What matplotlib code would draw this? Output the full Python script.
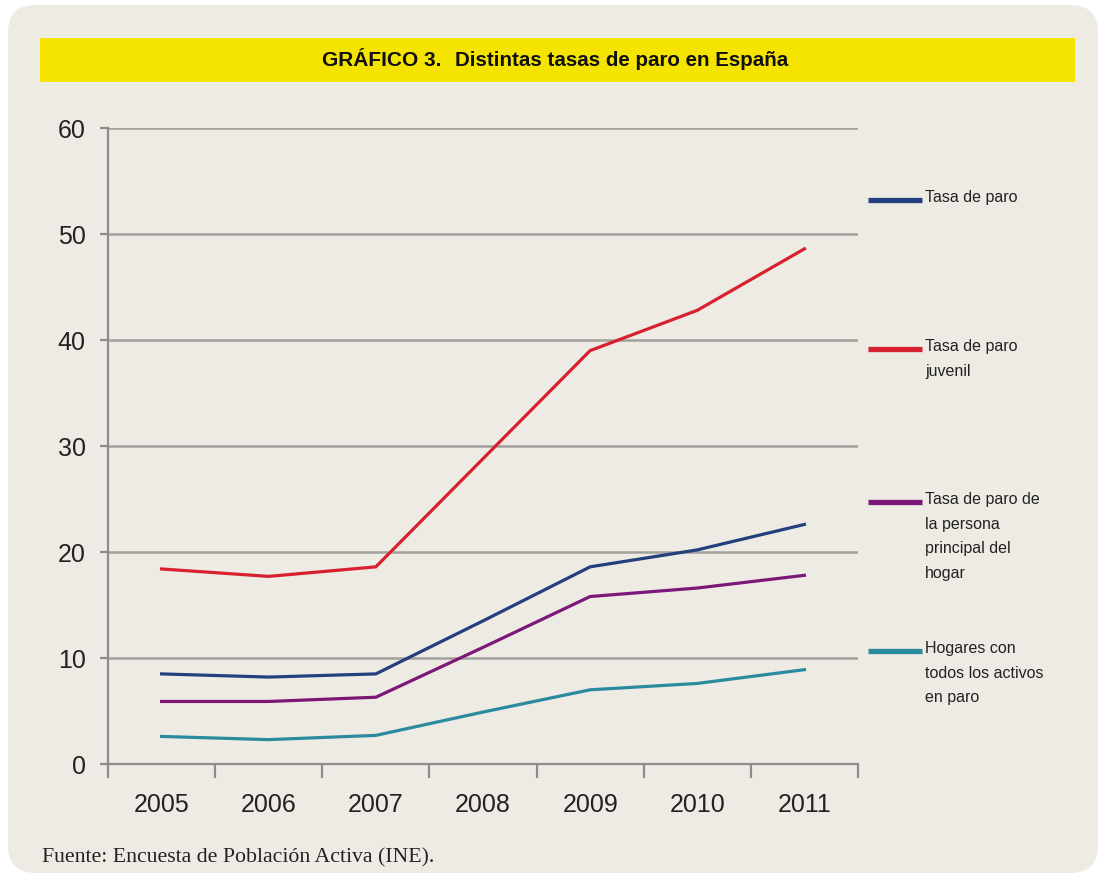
import matplotlib
matplotlib.use("Agg")
import matplotlib.pyplot as plt
from matplotlib.patches import FancyBboxPatch, Rectangle
from matplotlib.lines import Line2D
from matplotlib.ticker import FixedLocator

years = ["2005", "2006", "2007", "2008", "2009", "2010", "2011"]
tasa_paro = [8.5, 8.2, 8.5, 13.5, 18.6, 20.2, 22.6]
tasa_juvenil = [18.4, 17.7, 18.6, 28.8, 39.0, 42.8, 48.6]
tasa_principal = [5.9, 5.9, 6.3, 11.0, 15.8, 16.6, 17.8]
hogares_todos = [2.6, 2.3, 2.7, 4.9, 7.0, 7.6, 8.9]

series_labels = ["Tasa de paro", "Tasa de paro\njuvenil",
                 "Tasa de paro de\nla persona\nprincipal del\nhogar",
                 "Hogares con\ntodos los activos\nen paro"]
series_colors = ["#233f7c", "#d8202e", "#7c1878", "#2a8a9e"]
yticks = [0, 10, 20, 30, 40, 50, 60]

title_left = "GRÁFICO 3."
title_right = "Distintas tasas de paro en España"
source = "Fuente: Encuesta de Población Activa (INE)."

W, H = 1104, 874
fig = plt.figure(figsize=(W / 100, H / 100), dpi=100)
fig.patch.set_facecolor("white")

FONT = ["Liberation Sans", "DejaVu Sans"]

def fx(px):
    return px / W

def fy(py):
    return 1 - py / H

# panel
panel = FancyBboxPatch((fx(8), fy(873)), fx(1098) - fx(8), fy(5) - fy(873),
                       boxstyle="round,pad=0,rounding_size=0.025",
                       transform=fig.transFigure, facecolor="#eeebe5",
                       edgecolor="none", zorder=-2, mutation_aspect=W / H)
fig.patches.append(panel)

# title band
band = Rectangle((fx(40), fy(82)), fx(1075) - fx(40), fy(38) - fy(82),
                 transform=fig.transFigure, facecolor="#f5e300",
                 edgecolor="none", zorder=-1)
fig.patches.append(band)
fig.text(fx(322), fy(61), title_left, ha="left", va="center",
         fontsize=15, fontweight="bold", family=FONT, color="#111111")
fig.text(fx(455), fy(61), title_right, ha="left", va="center",
         fontsize=14.8, fontweight="bold", family=FONT, color="#111111")

# axes
ax = fig.add_axes([fx(108), fy(764), fx(858) - fx(108), fy(128) - fy(764)],
                  zorder=2)
ax.set_facecolor("none")
x = list(range(len(years)))
for vals, col in zip([tasa_paro, tasa_juvenil, tasa_principal, hogares_todos],
                     series_colors):
    ax.plot(x, vals, color=col, lw=2.3, solid_joinstyle="miter", zorder=3)

ax.set_xlim(-0.5, len(years) - 0.5)
ax.set_ylim(0, 60)
ax.set_yticks(yticks)
ax.set_yticklabels([str(v) for v in yticks])
ax.set_xticks(x)
ax.set_xticklabels(years)
ax.xaxis.set_minor_locator(FixedLocator([i - 0.5 for i in range(len(years) + 1)]))
ax.tick_params(axis="x", which="major", length=0, pad=21, labelsize=18,
               labelcolor="#222222")
ax.tick_params(axis="x", which="minor", length=10, width=1.6, color="#8c8c8c",
               direction="out")
ax.tick_params(axis="y", which="major", length=6, width=1.6, color="#8c8c8c",
               pad=10, labelsize=18, labelcolor="#222222")
for lab in ax.get_xticklabels() + ax.get_yticklabels():
    lab.set_family(FONT)
ax.grid(axis="y", color="#a3a19d", lw=1.8, zorder=1)
ax.set_axisbelow(True)
for s in ["top", "right"]:
    ax.spines[s].set_visible(False)
for s in ["left", "bottom"]:
    ax.spines[s].set_color("#8c8c8c")
    ax.spines[s].set_linewidth(1.6)

# legend
legend_y = [200, 349, 502, 651]
for lab, col, py in zip(series_labels, series_colors, legend_y):
    fig.add_artist(Line2D([fx(868), fx(922)], [fy(py), fy(py)],
                          transform=fig.transFigure, color=col, lw=3.8,
                          solid_capstyle="butt"))
    fig.text(fx(925), fy(py - 10), lab, ha="left", va="top", fontsize=11.5,
             family=FONT, color="#222222", linespacing=1.8)

# source
fig.text(fx(42), fy(858), source, ha="left", va="center", fontsize=15.7,
         family=["Liberation Serif", "DejaVu Serif"], color="#222222")

fig.savefig("out.png", dpi=100, facecolor=fig.get_facecolor())
